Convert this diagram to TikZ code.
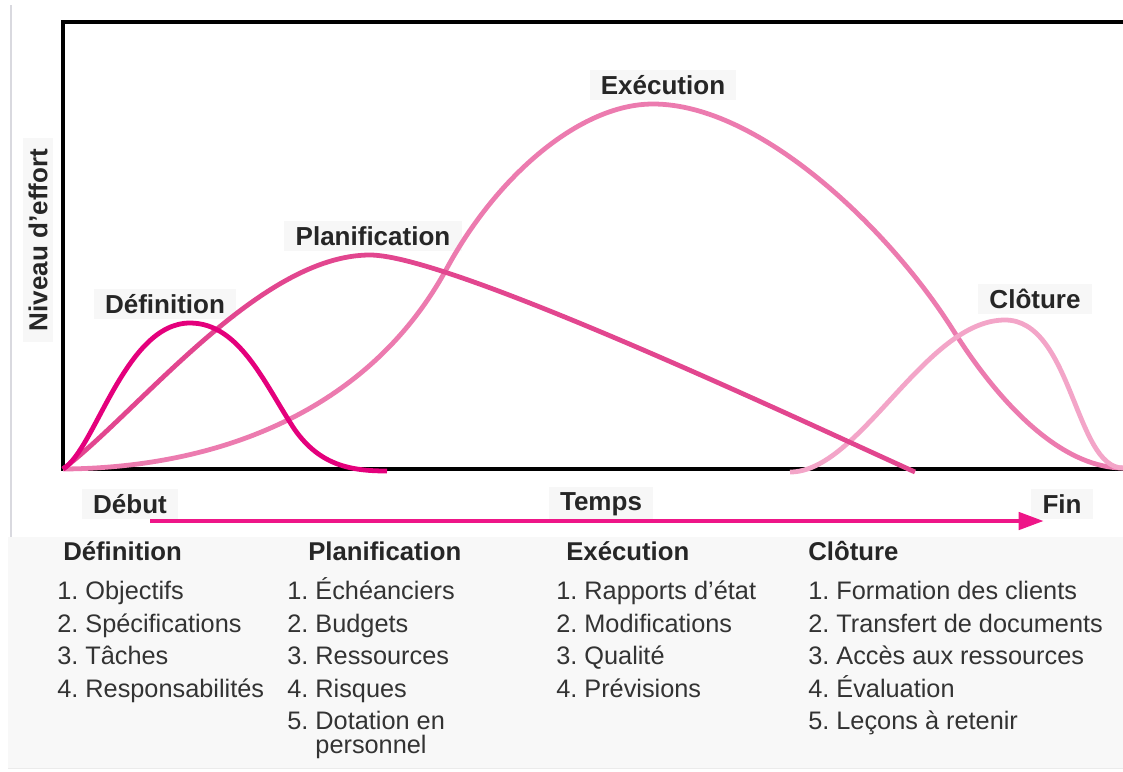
\documentclass[tikz,border=0pt]{standalone}
\usepackage{fontspec}
\setmainfont{Liberation Sans}
\usetikzlibrary{arrows.meta}
\definecolor{defcol}{HTML}{E4007C}
\definecolor{placol}{HTML}{E2468F}
\definecolor{execol}{HTML}{EC7BAF}
\definecolor{clocol}{HTML}{F3A5C8}
\definecolor{arrcol}{HTML}{EE1688}
\definecolor{panel}{HTML}{F8F8F8}

\begin{document}
\begin{tikzpicture}[x=0.025cm,y=-0.025cm]
    \tikzstyle{phase}=[font=\fontsize{18.5}{18.5}\selectfont\bfseries,text=black!85,fill=black!3,inner xsep=8pt,inner ysep=4pt]
    \tikzstyle{curve}=[line width=3.4pt]
    \tikzstyle{head}=[font=\fontsize{18.3}{18.3}\selectfont\bfseries,text=black!85,anchor=base west,inner sep=0pt]
    \tikzstyle{item}=[font=\fontsize{18}{17}\selectfont,text=black!80,anchor=base west,align=left,inner sep=0pt]
    \useasboundingbox (0,0) rectangle (1123,771);
    % background panel and side rule
    \fill[panel] (8,537) rectangle (1123,768);
    \draw[black!8] (8,768) -- (1123,768);
    \draw[line width=1.5pt,blue!15!black!15] (11,5) -- (11,537);
    % frame
    \draw[line width=2.8pt] (1123,22) -- (63,22) -- (63,469) -- (1123,469);
    % labels
    \node[phase,rotate=90] (niveau) at (38,240) {Niveau d'effort};
    \node[phase] (ldef) at (165,304) {Définition};
    \node[phase] (lpla) at (373,236) {Planification};
    \node[phase] (lexe) at (663,85) {Exécution};
    \node[phase] (lclo) at (1035,299) {Clôture};
    \node[phase] (debut) at (130,504) {Début};
    \node[phase] (temps) at (601,504) {Temps};
    \node[phase] (fin) at (1062,504) {Fin};
    % curves
    \draw[curve,execol] (63,469) .. controls (220,468) and (370,410) .. (447,268)
      .. controls (497,176) and (580,104) .. (653,104)
      .. controls (760,104) and (890,230) .. (953,330)
      .. controls (1010,420) and (1070,468) .. (1123,468);
    \draw[curve,clocol] (790,472) .. controls (860,472) and (925,320) .. (1005,320)
      .. controls (1072,320) and (1075,468) .. (1123,468);
    \draw[curve,placol] (63,469) .. controls (140,410) and (260,255) .. (370,255)
      .. controls (450,255) and (800,420) .. (915,472);
    \draw[curve,defcol] (63,469) .. controls (95,450) and (125,323) .. (190,323)
      .. controls (240,323) and (265,385) .. (295,430)
      .. controls (320,465) and (350,471) .. (387,471);
    % time arrow
    \coordinate (t0) at (150,521);
    \coordinate (t1) at (1044,521);
    \draw[line width=3.4pt,arrcol,-{Triangle[length=18pt,width=12pt]}] (t0) -- (t1);
    % lists
    \node[head] (hdef) at (63,560) {Définition};
    \foreach \t [count=\i] in {Objectifs,Spécifications,Tâches,Responsabilités}
      \node[item] (def\i) at (57,567+\i*32.5) {\i.\ \t};
    \node[head] (hpla) at (308,560) {Planification};
    \foreach \t [count=\i] in {Échéanciers,Budgets,Ressources,Risques}
      \node[item] (pla\i) at (287,567+\i*32.5) {\i.\ \t};
    \node[item] (pla5) at (287,753.5) {5.\ Dotation en\\\phantom{5.\ }personnel};
    \node[head] (hexe) at (566,560) {Exécution};
    \foreach \t [count=\i] in {Rapports d’état,Modifications,Qualité,Prévisions}
      \node[item] (exe\i) at (556,567+\i*32.5) {\i.\ \t};
    \node[head] (hclo) at (808,560) {Clôture};
    \foreach \t [count=\i] in {Formation des clients,Transfert de documents,Accès aux ressources,Évaluation,Leçons à retenir}
      \node[item] (clo\i) at (808,567+\i*32.5) {\i.\ \t};
\end{tikzpicture}
\end{document}
